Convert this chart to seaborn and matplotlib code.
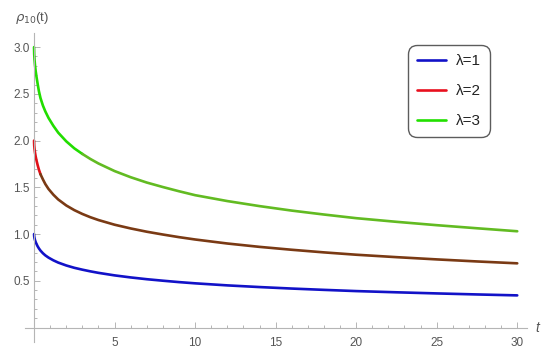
import matplotlib
matplotlib.use("Agg")
import matplotlib.pyplot as plt
import numpy as np
import pandas as pd
import seaborn as sns
from matplotlib.lines import Line2D
from matplotlib.ticker import FixedLocator, FormatStrFormatter

# ---- data ----
t = [0, 0.01, 0.03, 0.06, 0.1, 0.15, 0.22, 0.3, 0.4, 0.55, 0.7, 0.9, 1.2,
     1.5, 2, 2.5, 3, 3.5, 4, 5, 6, 7, 8, 9, 10, 12, 14, 16, 18, 20, 22.5,
     25, 27.5, 30]
rho_l1 = [1.0, 0.975, 0.955, 0.935, 0.915, 0.895, 0.870, 0.847, 0.823,
          0.795, 0.772, 0.748, 0.719, 0.695, 0.664, 0.639, 0.619, 0.601,
          0.585, 0.558, 0.536, 0.517, 0.501, 0.486, 0.473, 0.451, 0.433,
          0.417, 0.403, 0.390, 0.377, 0.365, 0.354, 0.344]
rho_l2 = [2.0, 1.950, 1.910, 1.870, 1.830, 1.790, 1.740, 1.690, 1.640,
          1.585, 1.535, 1.482, 1.421, 1.370, 1.306, 1.256, 1.215, 1.180,
          1.150, 1.100, 1.060, 1.025, 0.995, 0.967, 0.942, 0.899, 0.863,
          0.832, 0.804, 0.779, 0.753, 0.729, 0.707, 0.687]
rho_l3 = [3.0, 2.925, 2.865, 2.805, 2.745, 2.685, 2.610, 2.530, 2.455,
          2.375, 2.312, 2.242, 2.158, 2.085, 1.992, 1.917, 1.857, 1.803,
          1.755, 1.674, 1.608, 1.551, 1.503, 1.458, 1.416, 1.353, 1.299,
          1.251, 1.209, 1.170, 1.131, 1.095, 1.062, 1.030]
labels = ["λ=1", "λ=2", "λ=3"]
x_major = [5, 10, 15, 20, 25, 30]
y_major = [0.5, 1.0, 1.5, 2.0, 2.5, 3.0]

legend_colors = {"λ=1": "#1212c8", "λ=2": "#e8101e", "λ=3": "#22e000"}
# drawn colours along each curve (t range, colour)
segments = {
    "λ=1": [(0, 30, "#1212c8")],
    "λ=2": [(0, 0.4, "#e01018"), (0.4, 30, "#7a3a14")],
    "λ=3": [(0, 3.0, "#22dd00"), (3.0, 30, "#62bb22")],
}

rows = []
for name, vals in zip(labels, [rho_l1, rho_l2, rho_l3]):
    for ti, v in zip(t, vals):
        rows.append({"t": ti, "rho": v, "series": name})
df = pd.DataFrame(rows)

sns.set_theme(style="white")
plt.rcParams['font.family'] = ['Liberation Sans', 'DejaVu Sans']

fig = plt.figure(figsize=(5.5, 3.52), dpi=100)
ax = fig.add_axes([0.0455, 0.027, 0.9125, 0.879])

for name in labels:
    sub = df[df["series"] == name]
    for lo, hi, col in segments[name]:
        part = sub[(sub["t"] >= lo) & (sub["t"] <= hi)]
        sns.lineplot(data=part, x="t", y="rho", color=col, lw=1.9,
                     estimator=None, sort=False, ax=ax, legend=False)

ax.set_xlim(-0.56, 30.6)
ax.set_ylim(-0.16, 3.15)
ax.set_xlabel("")
ax.set_ylabel("")

for s in ["top", "right"]:
    ax.spines[s].set_visible(False)
for s in ["left", "bottom"]:
    ax.spines[s].set_position(("data", 0))
    ax.spines[s].set_color("#b5b5b5")
    ax.spines[s].set_linewidth(0.8)

ax.xaxis.set_major_locator(FixedLocator(x_major))
ax.yaxis.set_major_locator(FixedLocator(y_major))
ax.xaxis.set_minor_locator(FixedLocator([v for v in range(1, 31) if v % 5 != 0]))
ax.yaxis.set_minor_locator(FixedLocator([round(v * 0.1, 1) for v in range(1, 31) if v % 5 != 0]))
ax.yaxis.set_major_formatter(FormatStrFormatter("%.1f"))

ax.tick_params(which="both", direction="in", bottom=True, left=True,
               color="#b5b5b5", width=0.7)
ax.tick_params(which="major", length=4.5)
ax.tick_params(which="minor", length=2.5)
ax.tick_params(axis="x", which="major", labelsize=8.5, labelcolor="#555555", pad=7)
ax.tick_params(axis="y", which="major", labelsize=8.5, labelcolor="#555555", pad=3)

fig.text(537 / 550, 1 - 328 / 352, "t", fontsize=10, style="italic",
         color="#555555", ha="center", va="center")
fig.text(15 / 550, 1 - 18 / 352, r"$\rho_{10}$(t)", fontsize=9.5,
         color="#555555", ha="left", va="center")

handles = [Line2D([0], [0], color=legend_colors[n], lw=1.9) for n in labels]
leg = ax.legend(handles, labels, loc="upper left",
                bbox_to_anchor=(408 / 550, 1 - 45 / 352),
                bbox_transform=fig.transFigure, fontsize=11,
                frameon=True, fancybox=True, edgecolor="#333333",
                handlelength=1.9, handletextpad=0.65, labelspacing=1.05,
                borderpad=0.6, borderaxespad=0)
leg.get_frame().set_linewidth(1.0)
leg.get_frame().set_boxstyle("round,pad=0.0,rounding_size=0.6")
for txt in leg.get_texts():
    txt.set_color("#222222")

fig.savefig("out.png", dpi=100)
